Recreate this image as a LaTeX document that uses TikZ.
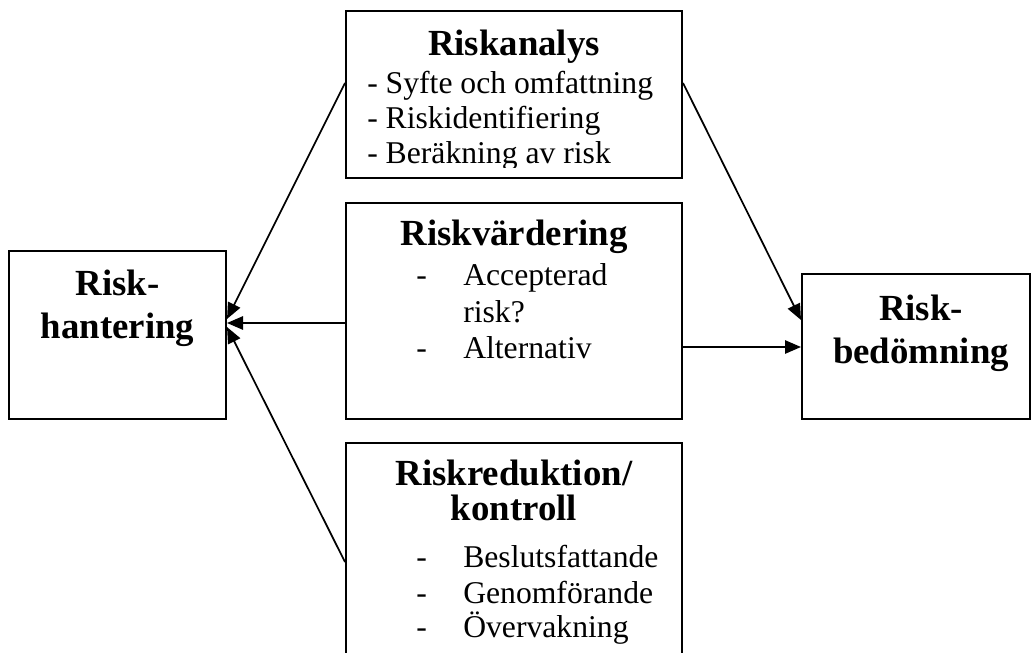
\documentclass[tikz,border=0pt]{standalone}
\usepackage{fontspec}
\setmainfont{Liberation Serif}
\usetikzlibrary{arrows.meta}
\tikzset{
  box/.style={draw=black, line width=1.5pt, rectangle, inner sep=0pt, fill=none},
  ttl/.style={anchor=base, inner sep=0pt, font=\fontsize{27.6}{30}\selectfont\bfseries},
  bodyl/.style={anchor=base west, inner sep=0pt, font=\fontsize{23.75}{26}\selectfont},
  arr/.style={line width=1.3pt, -{Triangle[length=12pt,width=10pt]}},
}
\begin{document}
\begin{tikzpicture}[x=0.75pt,y=-0.75pt]
\useasboundingbox (0,0) rectangle (1032,653);
\clip (0,0) rectangle (1032,653);
% boxes
\node[box, minimum width=252pt, minimum height=125.25pt] (ra) at (514,94.5) {};
\node[box, minimum width=252pt, minimum height=162pt] (rv) at (514,311) {};
\node[box, minimum width=252pt, minimum height=192.75pt] (rr) at (514,571.5) {};
\node[box, minimum width=162.75pt, minimum height=126pt] (rh) at (117.5,335) {};
\node[box, minimum width=171pt, minimum height=108.75pt] (rb) at (916,346.5) {};
% Riskanalys
\node[ttl] (raT) at (514,55) {Riskanalys};
\node[bodyl] (ra1) at (367,93) {- Syfte och omfattning};
\node[bodyl] (ra2) at (367,128) {- Riskidentifiering};
\begin{scope}
\clip (346,11) rectangle (682,167);
\node[bodyl] (ra3) at (367,163) {- Beräkning av risk};
\end{scope}
% Riskvärdering
\node[ttl] (rvT) at (514,245) {Riskvärdering};
\node[bodyl] (rvd1) at (416,285) {-};
\node[bodyl] (rv1) at (463,285) {Accepterad};
\node[bodyl] (rv2) at (463,322) {risk?};
\node[bodyl] (rvd3) at (416,358) {-};
\node[bodyl] (rv3) at (463,358) {Alternativ};
% Riskreduktion
\node[ttl] (rrT1) at (514,485) {Riskreduktion/};
\node[ttl] (rrT2) at (514,520) {kontroll};
\node[bodyl] (rrd1) at (416,567) {-};
\node[bodyl] (rr1) at (463,567) {Beslutsfattande};
\node[bodyl] (rrd2) at (416,603) {-};
\node[bodyl] (rr2) at (463,603) {Genomförande};
\node[bodyl] (rrd3) at (416,637) {-};
\node[bodyl] (rr3) at (463,637) {Övervakning};
% Risk-hantering
\node[ttl] (rhT1) at (117.5,295) {Risk-};
\node[ttl] (rhT2) at (117.5,338) {hantering};
% Risk-bedömning
\node[ttl] (rbT1) at (921,320) {Risk-};
\node[ttl] (rbT2) at (921,363) {bedömning};
% connectors
\draw[arr] (ra.west |- 0,83) -- (rh.east |- 0,319);
\draw[arr] (rv.west |- 0,323) -- (rh.east |- 0,323);
\draw[arr] (rr.west |- 0,562) -- (rh.east |- 0,327);
\draw[arr] (ra.east |- 0,83) -- (rb.west |- 0,320);
\draw[arr] (rv.east |- 0,347) -- (rb.west |- 0,347);
\end{tikzpicture}
\end{document}
